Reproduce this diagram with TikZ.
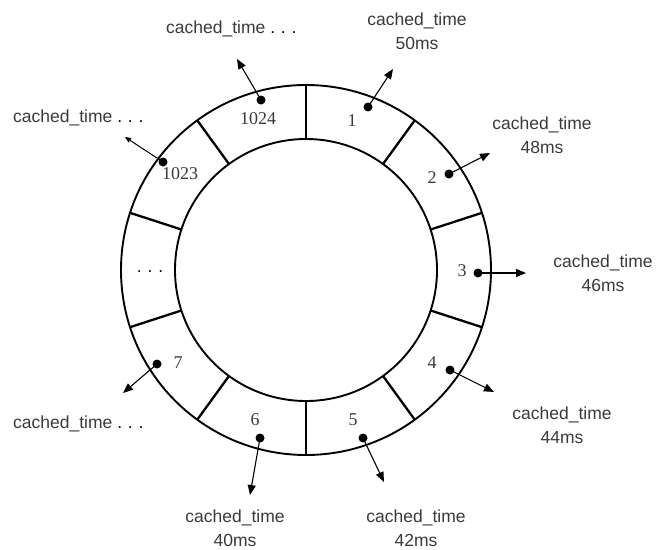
\documentclass[tikz,border=0pt]{standalone}
\usepackage{fontspec}
\setmainfont{Liberation Sans}
\newfontfamily\numfont{Liberation Serif}
\usetikzlibrary{arrows.meta}
\definecolor{txt}{HTML}{3A3A3A}
\begin{document}
\begin{tikzpicture}[x=1pt,y=-1pt,
  ring/.style={line width=1.9pt},
  divider/.style={line width=2.3pt},
  dot/.style={circle,fill=black,inner sep=0pt,minimum size=9pt},
  arr/.style={line width=1.1pt,-{Triangle[length=10pt,width=8pt]}},
  num/.style={font=\numfont\fontsize{18}{18}\selectfont,text=txt,inner sep=0pt},
  lbl/.style={font=\fontsize{17.5}{24}\selectfont,text=txt,align=center,inner sep=0pt},
  more/.style={font=\fontsize{17.5}{24}\selectfont,text=txt,inner sep=0pt}]
\useasboundingbox (0,0) rectangle (656,549);
\coordinate (c) at (306,270);
\draw[ring] (c) circle[radius=185pt];
\draw[ring] (c) circle[radius=131pt];
\foreach \a in {90,54,18,-18,-54,-90,-126,-162,162,126}
  \draw[divider] (c) ++(\a:131pt) -- ++(\a:54pt);

% ring labels
\node[num] (n1) at (352,121) {1};
\node[num] (n2) at (432,178) {2};
\node[num] (n3) at (462,271) {3};
\node[num] (n4) at (432,363) {4};
\node[num] (n5) at (353,420) {5};
\node[num] (n6) at (255,420) {6};
\node[num] (n7) at (178,363) {7};
\node[num] (n1024) at (258,119) {1024};
\node[num] (n1023) at (180,174) {1023};
\node[font=\fontsize{17.5}{16}\selectfont,inner sep=0pt] (ndots) at (150,272) {.\,\,.\,\,.};

% dots
\node[dot] (d1) at (368,107) {};
\node[dot] (d2) at (449,174) {};
\node[dot] (d3) at (478,273) {};
\node[dot] (d4) at (450,370) {};
\node[dot] (d5) at (363,438) {};
\node[dot] (d6) at (260,438) {};
\node[dot] (d7) at (157,364) {};
\node[dot] (d1024) at (261,100) {};
\node[dot] (d1023) at (163,162) {};

% arrow ends
\coordinate (t1) at (393,69);
\coordinate (t2) at (490,153);
\coordinate (t3) at (526,273);
\coordinate (t4) at (494,392);
\coordinate (t5) at (384,482);
\coordinate (t6) at (250,495);
\coordinate (t7) at (123,393);
\coordinate (t1024) at (237,59);
\coordinate (t1023) at (125,137);

\foreach \k in {1,2,3,4,5,6,7,1024}
  \draw[arr] (d\k.center) -- (t\k);
\draw[line width=1pt,-{Triangle[length=6pt,width=5pt]}] (d1023.center) -- (t1023);

% texts
\node[lbl] (l1) at (417,31) {cached\_time\\50ms};
\node[lbl] (l2) at (542,135) {cached\_time\\48ms};
\node[lbl] (l3) at (603,273) {cached\_time\\46ms};
\node[lbl] (l4) at (562,425) {cached\_time\\44ms};
\node[lbl] (l5) at (416,528) {cached\_time\\42ms};
\node[lbl] (l6) at (235,528) {cached\_time\\40ms};
\node[more,anchor=west] (l7) at (13,424) {cached\_time {\color{black}.\,\,.\,\,.}};
\node[more,anchor=west] (l1023) at (13,118) {cached\_time {\color{black}.\,\,.\,\,.}};
\node[more,anchor=west] (l1024) at (166,29) {cached\_time {\color{black}.\,\,.\,\,.}};
\end{tikzpicture}
\end{document}
